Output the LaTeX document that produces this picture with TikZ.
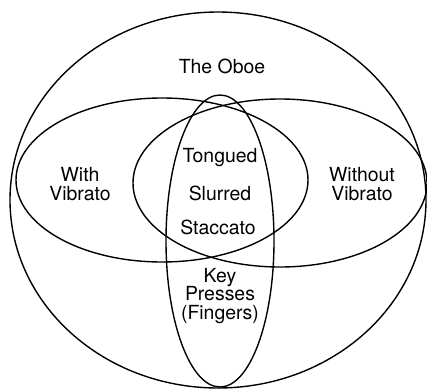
\documentclass[tikz,border=0pt]{standalone}
\usepackage{fontspec}
\setmainfont{TeX Gyre Heros}
\tikzset{
  set/.style={draw,line width=1.4pt},
  lbl/.style={align=center,inner sep=0pt,font=\fontsize{19.5}{18.5}\selectfont},
}
\begin{document}
\begin{tikzpicture}[x=1bp,y=-1bp]
  \useasboundingbox (0,0) rectangle (427,389);
  % the oboe, all of it
  \draw[set] (218,200) ellipse [x radius=208, y radius=188];
  % with and without vibrato
  \draw[set] (162,180) ellipse [x radius=146, y radius=82];
  \draw[set] (280,183) ellipse [x radius=147, y radius=84];
  % key presses
  \draw[set] (220,241) ellipse [x radius=54, y radius=146];
  \node[lbl] (oboe) at (222,66) {The Oboe};
  \node[lbl] (withvib) at (80,184) {With\\Vibrato};
  \node[lbl] (novib) at (362,184) {Without\\Vibrato};
  \node[lbl] (tongued) at (220,158) {Tongued};
  \node[lbl] (slurred) at (220,193) {Slurred};
  \node[lbl] (staccato) at (218,227) {Staccato};
  \node[lbl] (keys) at (220,296) {Key\\Presses\\(Fingers)};
\end{tikzpicture}
\end{document}
